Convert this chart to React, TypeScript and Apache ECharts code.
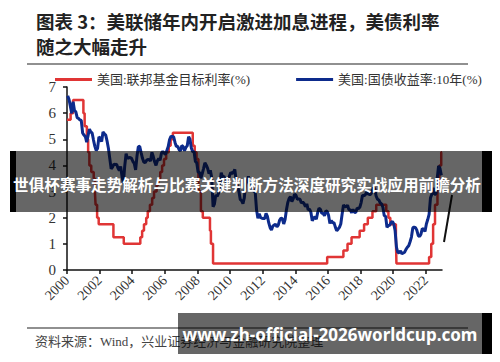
import React, { useEffect, useRef } from 'react';
import * as echarts from 'echarts';

const titleLines = ['图表 3：美联储年内开启激进加息进程，美债利率', '随之大幅走升'];
const seriesNames = ['美国:联邦基金目标利率(%)', '美国:国债收益率:10年(%)'];
const sourceText = '资料来源：Wind，兴业证券经济与金融研究院整理';
const bannerText1 = '世俱杯赛事走势解析与比赛关键判断方法深度研究实战应用前瞻分析';
const bannerText2 = 'www.zh-official-2026worldcup.com';

const xTickYears = [2000, 2002, 2004, 2006, 2008, 2010, 2012, 2014, 2016, 2018, 2020, 2022];
const yTicks = [0, 1, 2, 3, 4, 5, 6, 7];

// Fed funds target rate: dates of change and new level (%)
const fedChangeDates = [
  '2000-01-01', '2000-03-21', '2000-05-16', '2001-01-03', '2001-01-31', '2001-03-20', '2001-04-18',
  '2001-05-15', '2001-06-27', '2001-08-21', '2001-09-17', '2001-10-02', '2001-11-06', '2001-12-11',
  '2002-11-06', '2003-06-25', '2004-06-30', '2004-08-10', '2004-09-21', '2004-11-10', '2004-12-14',
  '2005-02-02', '2005-03-22', '2005-05-03', '2005-06-30', '2005-08-09', '2005-09-20', '2005-11-01',
  '2005-12-13', '2006-01-31', '2006-03-28', '2006-05-10', '2006-06-29', '2007-09-18', '2007-10-31',
  '2007-12-11', '2008-01-22', '2008-01-30', '2008-03-18', '2008-04-30', '2008-10-08', '2008-10-29',
  '2008-12-16', '2015-12-16', '2016-12-14', '2017-03-15', '2017-06-14', '2017-12-13', '2018-03-21',
  '2018-06-13', '2018-09-26', '2018-12-19', '2019-07-31', '2019-09-18', '2019-10-30', '2020-03-03',
  '2020-03-15', '2022-03-16', '2022-05-04', '2022-06-15', '2022-07-27', '2022-09-21', '2022-11-02',
  '2022-12-14', '2022-12-31',
];
const fedTargetRate = [
  5.75, 6.0, 6.5, 6.0, 5.5, 5.0, 4.5,
  4.0, 3.75, 3.5, 3.0, 2.5, 2.0, 1.75,
  1.25, 1.0, 1.25, 1.5, 1.75, 2.0, 2.25,
  2.5, 2.75, 3.0, 3.25, 3.5, 3.75, 4.0,
  4.25, 4.5, 4.75, 5.0, 5.25, 4.75, 4.5,
  4.25, 3.5, 3.0, 2.25, 2.0, 1.5, 1.0,
  0.25, 0.5, 0.75, 1.0, 1.25, 1.5, 1.75,
  2.0, 2.25, 2.5, 2.25, 2.0, 1.75, 1.25,
  0.25, 0.5, 1.0, 1.75, 2.5, 3.25, 4.0,
  4.5, 4.5,
];

// US 10Y Treasury yield, monthly, Jan 2000 - Dec 2022 (%)
const ust10yStartYear = 2000;
const ust10yMonthly = [
  6.66, 6.52, 6.26, 5.99, 6.44, 6.10, 6.05, 5.83, 5.80, 5.74, 5.72, 5.24, // 2000
  5.16, 5.10, 4.89, 5.14, 5.39, 5.28, 5.24, 4.97, 4.73, 4.57, 4.65, 5.09, // 2001
  5.04, 4.91, 5.28, 5.21, 5.16, 4.93, 4.65, 4.26, 3.87, 3.94, 4.05, 4.03, // 2002
  4.05, 3.90, 3.81, 3.96, 3.57, 3.33, 3.98, 4.45, 4.27, 4.29, 4.30, 4.27, // 2003
  4.15, 4.08, 3.83, 4.35, 4.72, 4.73, 4.50, 4.28, 4.13, 4.10, 4.19, 4.23, // 2004
  4.22, 4.17, 4.50, 4.34, 4.14, 4.00, 4.18, 4.26, 4.20, 4.46, 4.54, 4.47, // 2005
  4.42, 4.57, 4.72, 4.99, 5.11, 5.11, 5.09, 4.88, 4.72, 4.73, 4.60, 4.56, // 2006
  4.76, 4.72, 4.56, 4.69, 4.75, 5.10, 5.00, 4.67, 4.52, 4.53, 4.15, 4.10, // 2007
  3.74, 3.74, 3.51, 3.68, 3.88, 4.10, 4.01, 3.89, 3.69, 3.81, 3.53, 2.42, // 2008
  2.52, 2.87, 2.82, 2.93, 3.29, 3.72, 3.56, 3.59, 3.40, 3.39, 3.40, 3.59, // 2009
  3.73, 3.69, 3.73, 3.85, 3.42, 3.20, 3.01, 2.70, 2.65, 2.54, 2.76, 3.29, // 2010
  3.39, 3.58, 3.41, 3.46, 3.17, 3.00, 3.00, 2.30, 1.98, 2.15, 2.01, 1.98, // 2011
  1.97, 1.97, 2.17, 2.05, 1.80, 1.62, 1.53, 1.68, 1.72, 1.75, 1.65, 1.72, // 2012
  1.91, 1.98, 1.96, 1.76, 1.93, 2.30, 2.58, 2.74, 2.81, 2.62, 2.72, 2.90, // 2013
  2.86, 2.71, 2.72, 2.71, 2.56, 2.60, 2.54, 2.42, 2.53, 2.30, 2.33, 2.21, // 2014
  1.88, 1.98, 2.04, 1.94, 2.20, 2.36, 2.32, 2.17, 2.17, 2.07, 2.26, 2.24, // 2015
  2.09, 1.78, 1.89, 1.81, 1.81, 1.64, 1.50, 1.56, 1.63, 1.76, 2.14, 2.49, // 2016
  2.43, 2.42, 2.48, 2.30, 2.30, 2.19, 2.32, 2.21, 2.20, 2.36, 2.35, 2.40, // 2017
  2.58, 2.86, 2.84, 2.87, 2.98, 2.91, 2.89, 2.89, 3.00, 3.15, 3.12, 2.83, // 2018
  2.71, 2.68, 2.57, 2.53, 2.40, 2.07, 2.06, 1.63, 1.70, 1.71, 1.81, 1.86, // 2019
  1.76, 1.50, 0.87, 0.66, 0.67, 0.73, 0.62, 0.65, 0.68, 0.79, 0.87, 0.93, // 2020
  1.08, 1.26, 1.61, 1.64, 1.62, 1.52, 1.32, 1.28, 1.37, 1.58, 1.56, 1.47, // 2021
  1.76, 1.93, 2.13, 2.75, 2.90, 3.14, 2.90, 2.90, 3.52, 3.98, 3.89, 3.62, // 2022
];

const toYear = (d: string) => {
  const [y, m, day] = d.split('-').map(Number);
  return y + (m - 1) / 12 + (day - 1) / 365;
};

const serif = '"Liberation Serif", "Times New Roman", "Noto Sans CJK SC", serif';
const cjkBold = '"Noto Sans CJK SC", sans-serif';

export default function App() {
  const ref = useRef<HTMLDivElement>(null);
  useEffect(() => {
    if (!ref.current) return;
    const chart = echarts.init(ref.current, undefined, { renderer: 'svg' });
    const fedData = fedChangeDates.map((d, i) => [toYear(d), fedTargetRate[i]]);
    const ustData = ust10yMonthly.map((v, i) => [ust10yStartYear + (i + 0.5) / 12, v]);
    chart.setOption({
      animation: false,
      backgroundColor: '#ffffff',
      grid: { left: 67, right: 58, top: 87, bottom: 92 },
      legend: {
        left: 50,
        top: 68,
        icon: 'rect',
        itemWidth: 37,
        itemHeight: 3,
        itemGap: 46,
        textStyle: { fontFamily: serif, fontSize: 13, color: '#333' },
        data: seriesNames,
      },
      xAxis: {
        type: 'value',
        min: 2000,
        max: 2023,
        interval: 2,
        splitLine: { show: false },
        axisLine: { lineStyle: { color: '#111', width: 1.5 } },
        axisTick: { customValues: xTickYears, length: 4, lineStyle: { color: '#111', width: 1.5 } },
        axisLabel: {
          customValues: xTickYears,
          rotate: 45,
          margin: 8,
          fontFamily: serif,
          fontSize: 14,
          color: '#333',
          formatter: (v: number) => String(v),
        },
      },
      yAxis: {
        type: 'value',
        min: 0,
        max: 7,
        interval: 1,
        splitLine: { show: false },
        axisLine: { show: true, lineStyle: { color: '#111', width: 1.5 } },
        axisTick: { show: true, length: 4, lineStyle: { color: '#111', width: 1.5 } },
        axisLabel: {
          customValues: yTicks,
          margin: 11,
          fontFamily: serif,
          fontSize: 15,
          color: '#333',
        },
      },
      series: [
        {
          name: seriesNames[0],
          type: 'line',
          step: 'end',
          data: fedData,
          showSymbol: false,
          color: '#e03535',
          lineStyle: { color: '#e03535', width: 2.5 },
          z: 2,
        },
        {
          name: seriesNames[1],
          type: 'line',
          data: ustData,
          showSymbol: false,
          color: '#0d2b8c',
          lineStyle: { color: '#0d2b8c', width: 3 },
          z: 3,
        },
      ],
      graphic: [
        {
          type: 'text',
          x: 36,
          y: 12,
          style: { text: titleLines[0], fill: '#222', fontFamily: cjkBold, fontSize: 18.5, fontWeight: 'bold' },
        },
        {
          type: 'text',
          x: 36,
          y: 37,
          style: { text: titleLines[1], fill: '#222', fontFamily: cjkBold, fontSize: 18.5, fontWeight: 'bold' },
        },
        { type: 'line', shape: { x1: 27, y1: 64, x2: 468, y2: 64 }, style: { stroke: '#222', lineWidth: 1.2 } },
        { type: 'line', shape: { x1: 27, y1: 328, x2: 468, y2: 328 }, style: { stroke: '#222', lineWidth: 1.2 } },
        {
          type: 'text',
          x: 35,
          y: 341,
          style: { text: sourceText, fill: '#444', fontFamily: serif, fontSize: 13, verticalAlign: 'middle' },
        },
        { type: 'line', shape: { x1: 444, y1: 242, x2: 452, y2: 195 }, style: { stroke: '#111', lineWidth: 2 }, z: 50 },
        { type: 'rect', shape: { x: 10, y: 151, width: 6, height: 61 }, style: { fill: '#000' }, z: 100 },
        { type: 'rect', shape: { x: 16, y: 151, width: 466, height: 61 }, style: { fill: 'rgba(0,0,0,0.6)' }, z: 100 },
        { type: 'rect', shape: { x: 482, y: 151, width: 10, height: 61 }, style: { fill: '#000' }, z: 100 },
        {
          type: 'text',
          x: 247,
          y: 184,
          z: 101,
          style: {
            text: bannerText1,
            fill: '#fff',
            fontFamily: cjkBold,
            fontSize: 15.6,
            fontWeight: 'bold',
            align: 'center',
            verticalAlign: 'middle',
          },
        },
        { type: 'rect', shape: { x: 178, y: 313, width: 304, height: 41 }, style: { fill: 'rgba(0,0,0,0.6)' }, z: 100 },
        { type: 'rect', shape: { x: 482, y: 313, width: 10, height: 41 }, style: { fill: '#000' }, z: 100 },
        {
          type: 'text',
          x: 330,
          y: 334,
          z: 101,
          style: {
            text: bannerText2,
            fill: '#fff',
            fontFamily: '"Noto Sans", "Open Sans", sans-serif',
            fontSize: 17,
            fontWeight: 'bold',
            align: 'center',
            verticalAlign: 'middle',
          },
        },
      ],
    });
    return () => chart.dispose();
  }, []);
  return (
    <div
      ref={ref}
      style={{ position: 'fixed', left: 0, top: 0, width: 500, height: 362, background: '#fff' }}
    />
  );
}
